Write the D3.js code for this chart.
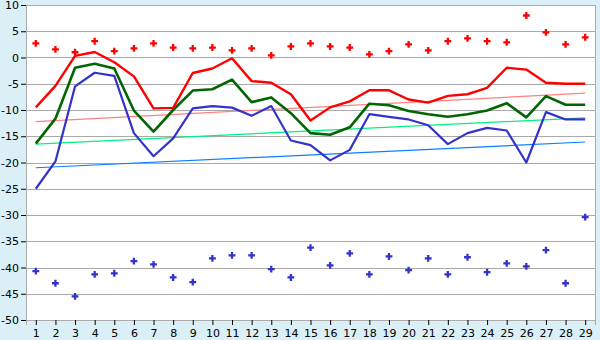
<!DOCTYPE html>
<html>
<head>
<meta charset="utf-8">
<script src="https://cdn.jsdelivr.net/npm/d3@7"></script>
<style>
  body { margin: 0; background: #daeff6; }
  text { font-family: "DejaVu Sans", sans-serif; font-size: 11px; fill: #000; }
</style>
</head>
<body>
<div id="chart"></div>
<script>
// Days along the x axis
const days = d3.range(1, 30);

// Daily maximum / minimum markers
const maxDots = [2.7, 1.55, 1.0, 3.1, 1.2, 1.75, 2.7, 1.9, 1.75, 1.9,
                 1.35, 1.75, 0.4, 2.1, 2.7, 2.1, 1.9, 0.6, 1.2, 2.5,
                 1.35, 3.1, 3.65, 3.1, 2.9, 8.0, 4.8, 2.5, 3.85];
const minDots = [-40.7, -43.0, -45.5, -41.3, -41.1, -38.8, -39.4, -41.9, -42.8, -38.25,
                 -37.7, -37.7, -40.3, -41.9, -36.2, -39.6, -37.3, -41.3, -37.9, -40.5,
                 -38.25, -41.3, -38.05, -40.9, -39.2, -39.8, -36.7, -43.0, -30.4];

// Line series
const redLine = [-9.5, -5.4, 0.3, 1.05, -0.9, -3.6, -9.7, -9.6, -2.95, -2.1,
                 -0.15, -4.5, -4.8, -7.0, -12.0, -9.5, -8.35, -6.25, -6.25, -8.0,
                 -8.6, -7.3, -7.0, -5.8, -1.95, -2.3, -4.8, -5.0, -5.0];
const greenLine = [-16.4, -11.65, -1.95, -1.2, -2.1, -10.1, -14.1, -10.0, -6.3, -6.05,
                   -4.2, -8.5, -7.6, -10.6, -14.4, -14.7, -13.3, -8.8, -9.1, -10.2,
                   -10.8, -11.3, -10.8, -10.1, -8.7, -11.4, -7.35, -9.0, -9.0];
const blueLine = [-25.0, -19.8, -5.5, -2.9, -3.5, -14.4, -18.8, -15.4, -9.7, -9.25,
                  -9.55, -11.1, -9.25, -15.8, -16.7, -19.6, -17.6, -10.8, -11.3, -11.8,
                  -12.9, -16.5, -14.4, -13.4, -13.9, -20.0, -10.4, -11.8, -11.8];

// Trend lines: value at day 1 and at day 29
const redTrend = [-12.2, -6.8];
const greenTrend = [-16.5, -11.5];
const blueTrend = [-21.0, -16.1];

const yTicks = d3.range(-50, 11, 5);

// Setup
const width = 600;
const height = 340;
const plot = { left: 26, right: 595, top: 5, bottom: 320 };

const svg = d3.select("#chart")
              .append("svg")
              .attr("width", width)
              .attr("height", height);

const x = d3.scalePoint()
            .domain(days)
            .range([plot.left, plot.right])
            .padding(0.5);

const y = d3.scaleLinear()
            .domain([-50, 10])
            .range([plot.bottom, plot.top]);

// plot background
svg.append("rect")
   .attr("x", plot.left)
   .attr("y", plot.top)
   .attr("width", plot.right - plot.left)
   .attr("height", plot.bottom - plot.top)
   .style("fill", "#fff")
   .style("stroke", "#aaa")
   .style("shape-rendering", "crispEdges");

// horizontal grid
svg.append("g")
   .selectAll("line")
   .data(yTicks)
   .enter().append("line")
     .attr("x1", plot.left)
     .attr("x2", plot.right)
     .attr("y1", d => Math.round(y(d)) + 0.5)
     .attr("y2", d => Math.round(y(d)) + 0.5)
     .style("stroke", "#aaa");

// axes (plain hyphen for negatives, like the original)
svg.append("g")
   .attr("transform", `translate(${plot.left},0)`)
   .call(d3.axisLeft(y).tickValues(yTicks).tickSize(5).tickPadding(2).tickFormat(d => String(d)))
   .call(g => g.select(".domain").style("stroke", "#aaa"))
   .selectAll("text").style("font-size", "11px").style("font-family", "DejaVu Sans");

svg.append("g")
   .attr("transform", `translate(0,${plot.bottom})`)
   .call(d3.axisBottom(x).tickSize(5).tickPadding(4))
   .call(g => g.select(".domain").style("stroke", "#aaa"))
   .selectAll("text").style("font-size", "11px").style("font-family", "DejaVu Sans");

svg.selectAll(".tick line").style("stroke", "#000");

// trend lines
const trends = [
  { vals: redTrend, color: "#ff8080" },
  { vals: greenTrend, color: "#00f080" },
  { vals: blueTrend, color: "#0a80ff" }
];

svg.append("g")
   .selectAll("line")
   .data(trends)
   .enter().append("line")
     .attr("x1", x(days[0]))
     .attr("x2", x(days[days.length - 1]))
     .attr("y1", d => y(d.vals[0]))
     .attr("y2", d => y(d.vals[1]))
     .style("stroke", d => d.color)
     .style("stroke-width", 1.2);

// main lines
const line = d3.line()
               .x((d, i) => x(days[i]))
               .y(d => y(d));

const series = [
  { vals: blueLine, color: "#3333cc", w: 2.2 },
  { vals: greenLine, color: "#006600", w: 2.6 },
  { vals: redLine, color: "#ff0000", w: 2.4 }
];

svg.append("g")
   .selectAll("path")
   .data(series)
   .enter().append("path")
     .attr("d", d => line(d.vals))
     .style("fill", "none")
     .style("stroke", d => d.color)
     .style("stroke-width", d => d.w)
     .style("stroke-linejoin", "round");

// markers
const cross = d3.symbol().type(d3.symbolCross).size(26);

svg.append("g")
   .selectAll("path")
   .data(maxDots)
   .enter().append("path")
     .attr("d", cross)
     .attr("transform", (d, i) => `translate(${x(days[i])},${y(d)})`)
     .style("fill", "#ff0000");

svg.append("g")
   .selectAll("path")
   .data(minDots)
   .enter().append("path")
     .attr("d", cross)
     .attr("transform", (d, i) => `translate(${x(days[i])},${y(d)})`)
     .style("fill", "#3333cc");
</script>
</body>
</html>
